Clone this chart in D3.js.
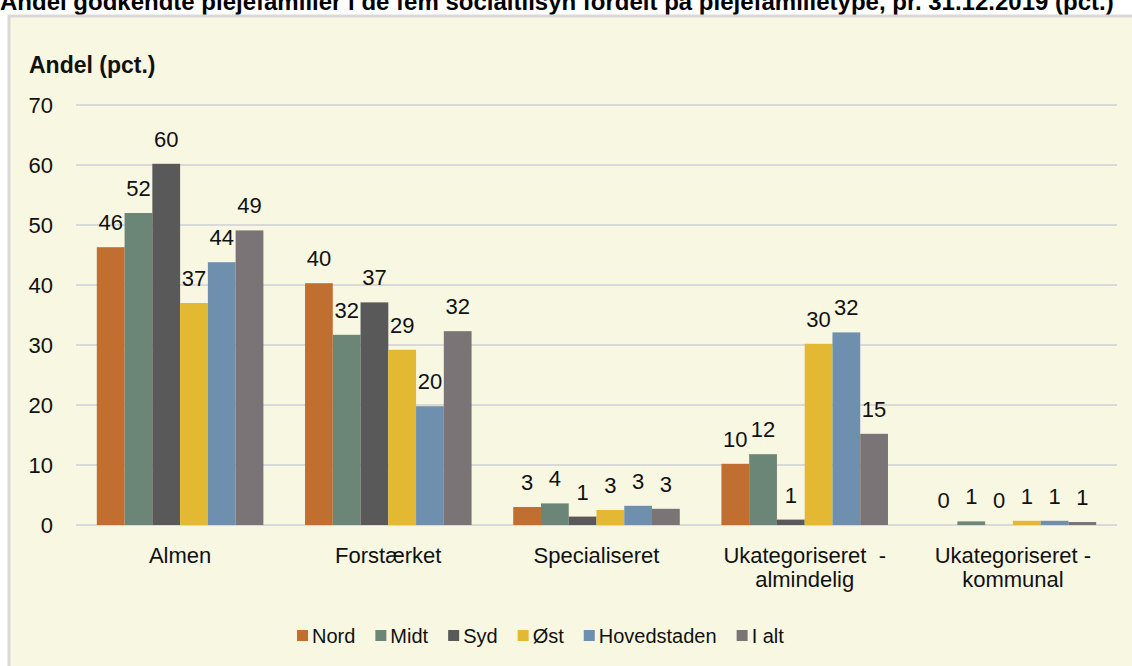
<!DOCTYPE html>
<html>
<head>
<meta charset="utf-8">
<script src="https://cdn.jsdelivr.net/npm/d3@7"></script>
<style>
  body { margin: 0; background: #fff; font-family: "Liberation Sans", Arial, sans-serif; }
  svg { display: block; }
</style>
</head>
<body>
<script>

var categories = [['Almen'], ['Forstærket'], ['Specialiseret'], ['Ukategoriseret\u00a0\u00a0-', 'almindelig'], ['Ukategoriseret -', 'kommunal']];
var seriesNames = ['Nord', 'Midt', 'Syd', 'Øst', 'Hovedstaden', 'I alt'];
var colors = ['#c06f30', '#6b8676', '#595959', '#e3b833', '#6f8fae', '#7a7476'];

// one array per region, in category order
var nord = [46.3, 40.3, 3.0, 10.2, 0.0];
var midt = [52.0, 31.7, 3.6, 11.8, 0.6];
var syd = [60.2, 37.1, 1.4, 0.9, 0.0];
var oest = [37.0, 29.2, 2.5, 30.2, 0.7];
var hoved = [43.8, 19.8, 3.2, 32.1, 0.7];
var ialt = [49.1, 32.3, 2.7, 15.2, 0.5];
var values = [nord, midt, syd, oest, hoved, ialt];

var yTicks = [0, 10, 20, 30, 40, 50, 60, 70];

var W = 1132, H = 666;
var svg = d3.select('body').append('svg').attr('width', W).attr('height', H);

// title (top partly cut off, as in the source)
svg.append('text')
   .attr('x', 0).attr('y', 10)
   .attr('font-size', 24).attr('font-weight', 'bold')
   .text('Andel godkendte plejefamilier i de fem socialtilsyn fordelt på plejefamilietype, pr. 31.12.2019 (pct.)');

// chart box
svg.append('rect')
   .attr('x', 9).attr('y', 16).attr('width', W).attr('height', H)
   .attr('fill', '#f8f7e1').attr('stroke', '#d9d9d9').attr('stroke-width', 3);

var x0 = d3.scaleBand().domain(d3.range(categories.length)).range([76, 1117]).paddingInner(0.2).paddingOuter(0.1);
var x1 = d3.scaleBand().domain(d3.range(seriesNames.length)).range([0, x0.bandwidth()]);
var y = d3.scaleLinear().domain([0, 70]).range([525, 105]);

// gridlines
svg.append('g').selectAll('line')
   .data(yTicks).enter().append('line')
   .attr('x1', 76).attr('x2', 1117)
   .attr('y1', function (d) { return y(d); })
   .attr('y2', function (d) { return y(d); })
   .attr('stroke', '#d9d9d9').attr('stroke-width', 2);

// y axis labels
svg.append('g').selectAll('text')
   .data(yTicks).enter().append('text')
   .attr('x', 53)
   .attr('y', function (d) { return y(d) + 8; })
   .attr('text-anchor', 'end').attr('font-size', 22).attr('fill', '#111')
   .text(function (d) { return d; });

svg.append('text')
   .attr('x', 29).attr('y', 73)
   .attr('font-size', 23).attr('font-weight', 'bold').attr('fill', '#111')
   .text('Andel (pct.)');

// bars
var groups = svg.append('g').selectAll('g')
   .data(values).enter().append('g')
   .attr('fill', function (d, i) { return colors[i]; });

groups.each(function (series, si) {
  var g = d3.select(this);
  g.selectAll('rect')
   .data(series).enter().append('rect')
   .attr('x', function (d, ci) { return x0(ci) + x1(si); })
   .attr('y', function (d) { return y(d); })
   .attr('width', x1.bandwidth())
   .attr('height', function (d) { return y(0) - y(d); });
  g.selectAll('text')
   .data(series).enter().append('text')
   .attr('x', function (d, ci) { return x0(ci) + x1(si) + x1.bandwidth() / 2; })
   .attr('y', function (d) { return y(d) - 17; })
   .attr('text-anchor', 'middle').attr('font-size', 22).attr('fill', '#111')
   .text(function (d) { return Math.round(d); });
});

// category labels
var cat = svg.append('g').selectAll('text')
   .data(categories).enter().append('text')
   .attr('text-anchor', 'middle').attr('font-size', 22).attr('fill', '#111')
   .attr('x', function (d, i) { return x0(i) + x0.bandwidth() / 2; })
   .attr('y', 563);
cat.selectAll('tspan')
   .data(function (d) { return d; }).enter().append('tspan')
   .attr('x', function () { return d3.select(this.parentNode).attr('x'); })
   .attr('dy', function (d, i) { return i ? 24 : 0; })
   .text(function (d) { return d; });

// legend
var legend = svg.append('g').attr('font-size', 20).attr('fill', '#111');
var lx = 297;
seriesNames.forEach(function (name, i) {
  legend.append('rect').attr('x', lx).attr('y', 630).attr('width', 11).attr('height', 11).attr('fill', colors[i]);
  var t = legend.append('text').attr('x', lx + 15).attr('y', 643).text(name);
  lx += 15 + t.node().getComputedTextLength() + 20;
});

</script>
</body>
</html>
